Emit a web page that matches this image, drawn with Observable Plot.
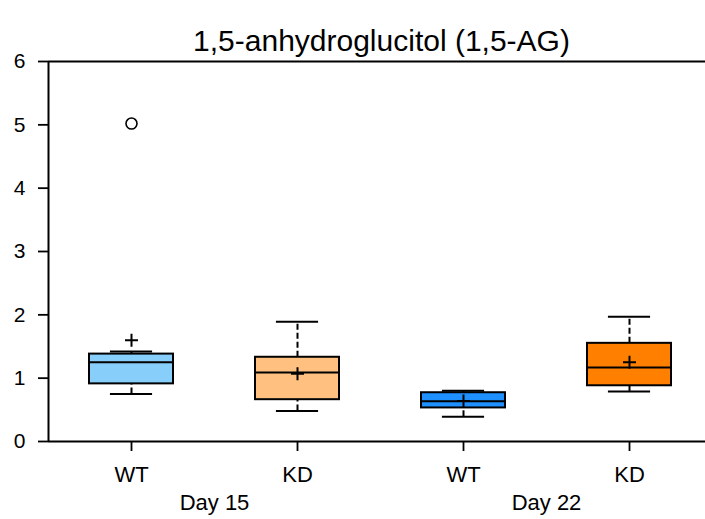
<!DOCTYPE html>
<html><head><meta charset="utf-8">
<script src="https://cdn.jsdelivr.net/npm/d3@7"></script>
<script src="https://cdn.jsdelivr.net/npm/@observablehq/plot@0.6"></script>
<style>html,body{margin:0;padding:0;background:#fff;font-family:"Liberation Sans",Arial,sans-serif}</style>
</head><body><div id="chart"></div>
<script>
const title = "1,5-anhydroglucitol (1,5-AG)";
const groups = ["WT", "KD", "WT", "KD"];
const days = ["Day 15", "Day 15", "Day 22", "Day 22"];
const fills = ["#87CEFA", "#FFC080", "#1E90FF", "#FF8000"];
const whiskerLow = [0.75, 0.48, 0.39, 0.79];
const q1 = [0.91, 0.66, 0.53, 0.88];
const median = [1.25, 1.09, 0.635, 1.17];
const q3 = [1.38, 1.33, 0.77, 1.55];
const whiskerHigh = [1.42, 1.89, 0.80, 1.97];
const mean = [1.60, 1.07, 0.64, 1.25];
const outliers = [[5.02], [], [], []];
const yTicks = [0, 1, 2, 3, 4, 5, 6];

const rows = groups.map((g, i) => ({
  pos: i + 1, group: g, day: days[i], color: fills[i],
  lo: whiskerLow[i], q1: q1[i], med: median[i], q3: q3[i], hi: whiskerHigh[i], mean: mean[i]
}));
const outlierRows = outliers.flatMap((arr, i) => arr.map(v => ({pos: i + 1, value: v})));
const dayNames = Array.from(new Set(days));
const dayRows = dayNames.map(dn => ({day: dn, pos: d3.mean(rows.filter(r => r.day === dn), r => r.pos)}));
const positions = rows.map(r => r.pos);

const boxHalf = 0.253, capHalf = 0.127;
const plusSymbol = {
  draw(ctx, size) {
    const r = Math.sqrt(size / Math.PI);
    ctx.moveTo(-r, 0); ctx.lineTo(r, 0);
    ctx.moveTo(0, -r); ctx.lineTo(0, r);
  }
};

const chart = Plot.plot({
  width: 705, height: 519,
  marginLeft: 48, marginRight: 0, marginTop: 61, marginBottom: 78,
  style: {fontFamily: "'Liberation Sans', Arial, sans-serif", fontSize: "20px", color: "black", background: "white"},
  x: {type: "linear", domain: [0.5, 4.5], range: [48, 712], axis: null},
  y: {domain: [0, 6], axis: null},
  color: {type: "identity"},
  marks: [
    Plot.ruleX(rows, {x: "pos", y1: "q3", y2: "hi", stroke: "black", strokeWidth: 2, strokeDasharray: "6,3"}),
    Plot.ruleX(rows, {x: "pos", y1: "lo", y2: "q1", stroke: "black", strokeWidth: 2, strokeDasharray: "6,3"}),
    Plot.rect(rows, {x1: d => d.pos - boxHalf, x2: d => d.pos + boxHalf, y1: "q1", y2: "q3", fill: "color", stroke: "black", strokeWidth: 2}),
    Plot.ruleY(rows, {y: "med", x1: d => d.pos - boxHalf, x2: d => d.pos + boxHalf, stroke: "black", strokeWidth: 2}),
    Plot.ruleY(rows, {y: "hi", x1: d => d.pos - capHalf, x2: d => d.pos + capHalf, stroke: "black", strokeWidth: 2}),
    Plot.ruleY(rows, {y: "lo", x1: d => d.pos - capHalf, x2: d => d.pos + capHalf, stroke: "black", strokeWidth: 2}),
    Plot.dot(rows, {x: "pos", y: "mean", symbol: plusSymbol, r: 6.5, stroke: "black", fill: "none", strokeWidth: 2}),
    Plot.dot(outlierRows, {x: "pos", y: "value", r: 5.5, stroke: "black", fill: "none", strokeWidth: 1.6}),
    Plot.ruleX([0.5], {stroke: "black", strokeWidth: 2}),
    Plot.ruleY([0, 6], {stroke: "black", strokeWidth: 2}),
    Plot.axisY({ticks: yTicks, tickFormat: () => "", tickSize: 10, strokeWidth: 1.8, label: null}),
    Plot.axisX({ticks: positions, tickFormat: () => "", tickSize: 10, strokeWidth: 1.8, label: null}),
    Plot.text(yTicks, {x: () => 0.5, y: d => d, text: d => String(d), textAnchor: "end", dx: -23, fontSize: 21, fill: "black"}),
    Plot.text(rows, {x: "pos", y: () => 0, text: "group", fontSize: 22, lineAnchor: "top", dy: 25, fill: "black"}),
    Plot.text(dayRows, {x: "pos", y: () => 0, text: "day", fontSize: 22, lineAnchor: "top", dy: 53, fill: "black"}),
    Plot.text([title], {frameAnchor: "top", text: d => d, fontSize: 30, dy: -32, dx: 4.5, fill: "black"})
  ]
});
document.getElementById("chart").appendChild(chart);
</script>
</body></html>
